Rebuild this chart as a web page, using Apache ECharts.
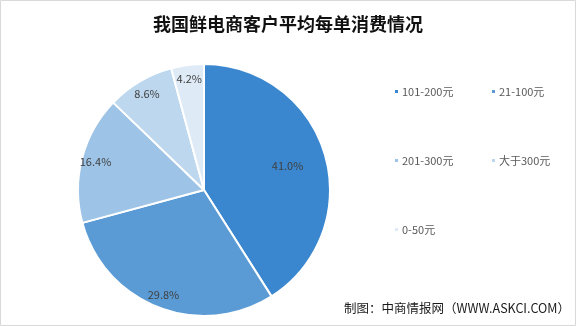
<!DOCTYPE html>
<html><head><meta charset="utf-8">
<script src="https://cdn.jsdelivr.net/npm/echarts@6/dist/echarts.min.js"></script>
<style>html,body{margin:0;padding:0;background:#fff}#c{width:576px;height:326px}</style>
</head><body><div id="c"></div>
<script>
const categories = ['101-200元', '21-100元', '201-300元', '大于300元', '0-50元'];
const values = [41.0, 29.8, 16.4, 8.6, 4.2];
const colors = ['#3a87cf', '#5b9bd5', '#9dc3e6', '#bdd7ee', '#deebf7'];
const titleText = '我国鲜电商客户平均每单消费情况';
const sourceText = '制图：中商情报网（WWW.ASKCI.COM）';

const font = '"Microsoft YaHei","Noto Sans CJK SC",sans-serif';
const data = categories.map((c, i) => ({ name: c, value: values[i], itemStyle: { color: colors[i] } }));
const legendLefts = [393, 490];
const legendTops = [86, 155, 224];

const chart = echarts.init(document.getElementById('c'));
chart.setOption({
  animation: false,
  title: {
    text: titleText, left: 'center', top: 10,
    textStyle: { fontFamily: '"Noto Sans CJK SC",serif', fontSize: 18, fontWeight: 'bold', color: '#111' }
  },
  legend: categories.map((c, i) => ({
    data: [c],
    left: legendLefts[i % 2], top: legendTops[Math.floor(i / 2)], padding: 0,
    icon: 'rect', itemWidth: 5, itemHeight: 5, itemGap: 5,
    selectedMode: false,
    textStyle: { fontFamily: font, fontSize: 11, color: '#595959', padding: [0, 0, 0, -2] }
  })),
  graphic: [
    { type: 'rect', shape: { x: 0.5, y: 0.5, width: 575, height: 325 }, style: { fill: 'none', stroke: '#d9d9d9', lineWidth: 1 }, silent: true },
    { type: 'text', right: 6, top: 302, style: { text: sourceText, font: '12.5px ' + font, fill: '#1a1a1a' } }
  ],
  series: [
    {
      type: 'pie', center: [204, 190], radius: 126, startAngle: 90, clockwise: true,
      data: data, label: { show: false }, labelLine: { show: false },
      itemStyle: { borderColor: '#fff', borderWidth: 2 }, silent: true
    },
    {
      type: 'pie', center: [204, 190], radius: [92, 126], startAngle: 90, clockwise: true,
      data: categories.map((c, i) => ({ name: c, value: values[i] })),
      itemStyle: { color: 'rgba(0,0,0,0)' }, silent: true, legendHoverLink: false,
      label: {
        show: true, position: 'inside', formatter: p => p.value.toFixed(1) + '%',
        fontFamily: font, fontSize: 11, color: '#404040'
      },
      labelLayout: p => (p.dataIndex === 0 ? { dx: -24, dy: 7 } : {})
    }
  ]
});
</script></body></html>
